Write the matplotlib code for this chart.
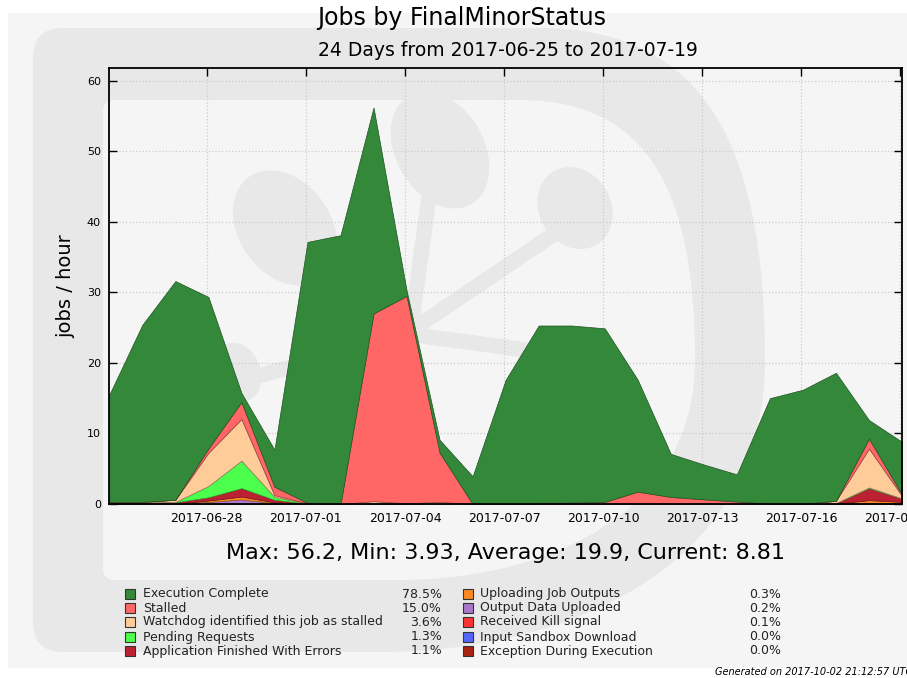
import numpy as np
import pandas as pd
import matplotlib
matplotlib.use("Agg")
import matplotlib.pyplot as plt
import matplotlib.dates as mdates
from matplotlib.patches import Rectangle, PathPatch, Ellipse
from matplotlib.path import Path
from matplotlib import transforms
from matplotlib.lines import Line2D
from matplotlib.colors import to_rgb

# ---------------- data ----------------
start = "2017-06-25 01:10"
n_days = 25

exception_during_execution = [0.0] * 25
input_sandbox_download = [0.0] * 25
received_kill_signal = [0.1, 0.1, 0, 0, 0.1, 0, 0, 0, 0, 0, 0, 0, 0, 0, 0, 0, 0, 0, 0, 0, 0, 0, 0, 0.1, 0.1]
output_data_uploaded = [0, 0, 0.05, 0.3, 0.55, 0.15, 0, 0, 0, 0, 0, 0, 0, 0, 0, 0, 0, 0, 0, 0, 0, 0, 0, 0.05, 0]
uploading_job_outputs = [0, 0, 0, 0.2, 0.4, 0.1, 0, 0, 0, 0, 0, 0, 0, 0, 0, 0, 0, 0, 0, 0, 0, 0, 0.05, 0.4, 0.2]
app_finished_errors = [0.2, 0.2, 0.2, 0.45, 1.2, 0.35, 0.05, 0, 0.1, 0.1, 0, 0, 0, 0, 0, 0, 0, 0, 0, 0, 0, 0, 0.1, 1.7, 0.5]
pending_requests = [0, 0, 0.05, 1.6, 3.9, 0.4, 0.05, 0, 0, 0, 0, 0, 0, 0, 0, 0, 0, 0, 0, 0, 0, 0, 0, 0.1, 0]
watchdog_stalled = [0, 0, 0.3, 4.7, 5.9, 0.25, 0, 0, 0.3, 0, 0.3, 0, 0, 0, 0, 0, 0, 0, 0, 0, 0, 0, 0.3, 5.5, 0.35]
stalled = [0, 0, 0, 0.6, 2.4, 1.2, 0.05, 0, 26.6, 29.4, 7.0, 0, 0, 0.1, 0.2, 0.3, 1.75, 1.0, 0.66, 0.35, 0.05, 0.05, 0, 1.4, 0.2]
execution_complete = [15.2, 25.1, 31.0, 21.5, 1.3, 5.25, 37.0, 38.1, 29.2, 0.8, 1.8, 3.93, 17.6, 25.2, 25.1,
                      24.6, 15.85, 6.1, 4.94, 3.85, 14.95, 16.15, 18.15, 2.65, 7.46]

labels = ["Execution Complete", "Stalled", "Watchdog identified this job as stalled",
          "Pending Requests", "Application Finished With Errors", "Uploading Job Outputs",
          "Output Data Uploaded", "Received Kill signal", "Input Sandbox Download",
          "Exception During Execution"]
percents = ["78.5%", "15.0%", "3.6%", "1.3%", "1.1%", "0.3%", "0.2%", "0.1%", "0.0%", "0.0%"]
colors = ["#33883a", "#ff6666", "#ffcc99", "#4dff4d", "#bb2033", "#ff8822",
          "#aa77cc", "#ff3333", "#5566ff", "#aa2211"]
series = [execution_complete, stalled, watchdog_stalled, pending_requests, app_finished_errors,
          uploading_job_outputs, output_data_uploaded, received_kill_signal,
          input_sandbox_download, exception_during_execution]

title = "Jobs by FinalMinorStatus"
subtitle = "24 Days from 2017-06-25 to 2017-07-19"
stats = "Max: 56.2, Min: 3.93, Average: 19.9, Current: 8.81"
generated = "Generated on 2017-10-02 21:12:57 UTC"
tick_dates = pd.date_range("2017-06-28", "2017-07-19", freq="3D")

# ---------------- figure ----------------
W, H = 907, 678
fig = plt.figure(figsize=(W / 100, H / 100), dpi=100, facecolor="white")
px = transforms.Affine2D().scale(1 / W, -1 / H).translate(0, 1) + fig.transFigure

bg = "#f5f5f5"
fig.patches.append(Rectangle((8, 13), W - 8, 655, transform=px, facecolor=bg,
                             edgecolor="none", zorder=-10))

# watermark (D-shaped logo)
def D_path(x0, y0, y1, xr, r, xa, xb, ybulge):
    verts = [(x0 + r, y0), (xa, y0),
             (xa + (xr - xa) * 0.75, y0), (xr, y0 + (y1 - y0) * 0.2), (xr, ybulge),
             (xr, y1 - (y1 - y0) * 0.12), (xb + (xr - xb) * 0.45, y1), (xb, y1),
             (x0 + r, y1), (x0, y1), (x0, y1 - r),
             (x0, y0 + r), (x0, y0), (x0 + r, y0), (x0 + r, y0)]
    codes = [Path.MOVETO, Path.LINETO,
             Path.CURVE4, Path.CURVE4, Path.CURVE4,
             Path.CURVE4, Path.CURVE4, Path.CURVE4,
             Path.LINETO, Path.CURVE3, Path.CURVE3,
             Path.LINETO, Path.CURVE3, Path.CURVE3, Path.CLOSEPOLY]
    return Path(verts, codes)

wm = "#e8e8e8"
fig.patches.append(PathPatch(D_path(33, 28, 652, 765, 30, 540, 380, 360), transform=px,
                             facecolor=wm, edgecolor="none", zorder=-9))
fig.patches.append(PathPatch(D_path(103, 100, 580, 695, 12, 520, 400, 360), transform=px,
                             facecolor=bg, edgecolor="none", zorder=-8))
for (cx, cy, w, h, ang) in [(285, 228, 92, 125, -35), (440, 150, 88, 125, -30),
                            (575, 208, 72, 85, -30), (238, 372, 45, 60, -20)]:
    fig.patches.append(Ellipse((cx, cy), w, h, angle=ang, transform=px, facecolor=wm,
                               edgecolor="none", zorder=-7))
for (xa, ya, xb, yb) in [(430, 190, 410, 335), (412, 330, 560, 230), (415, 335, 600, 360),
                         (412, 335, 250, 378)]:
    fig.lines.append(Line2D([xa, xb], [ya, yb], transform=px, color=wm, lw=11,
                            solid_capstyle="round", zorder=-7))

# ---------------- axes ----------------
ax = fig.add_axes([109.3 / W, 1 - 504 / H, (902 - 109.3) / W, (504 - 68) / H])
ax.set_facecolor("none")

dates = pd.date_range(start, periods=n_days, freq="D")
x = mdates.date2num(dates.to_pydatetime())

def darker(c, f=0.6):
    r, g, b = to_rgb(c)
    return (r * f, g * f, b * f)

base = np.zeros(n_days)
for vals, col in reversed(list(zip(series, colors))):
    top = base + np.array(vals, dtype=float)
    ax.fill_between(x, base, top, facecolor=col, edgecolor=darker(col), linewidth=0.5, zorder=2)
    base = top

ax.set_xlim(x[0], x[-1])
ax.set_ylim(0, 61.8)
ax.set_yticks(range(0, 61, 10))
ax.set_xticks(mdates.date2num(tick_dates.to_pydatetime()))
ax.xaxis.set_major_formatter(mdates.DateFormatter("%Y-%m-%d"))
ax.tick_params(axis="x", direction="in", top=True, length=6, width=1, labelsize=9, pad=6)
ax.tick_params(axis="y", direction="in", right=True, length=6, width=1, labelsize=8, pad=6)
ax.grid(True, linestyle=":", color="#cccccc", linewidth=0.9, zorder=1)
ax.set_axisbelow(True)
for sp in ax.spines.values():
    sp.set_linewidth(1.3)
    sp.set_zorder(5)
ax.set_ylabel("jobs / hour", fontsize=14, labelpad=8)

# ---------------- texts ----------------
fig.text(462 / W, 1 - 18 / H, title, ha="center", va="center", fontsize=17)
fig.text(508 / W, 1 - 51 / H, subtitle, ha="center", va="center", fontsize=13.5)
fig.text(506 / W, 1 - 553 / H, stats, ha="center", va="center", fontsize=16)
fig.text(912 / W, 1 - 672 / H, generated, ha="right", va="center", fontsize=7, style="italic")

rows_y = [594, 608, 622, 637, 651]
cols = [(125, 143, 442), (463, 480, 781)]
for i, (lab, pct, col) in enumerate(zip(labels, percents, colors)):
    c = i // 5
    r = i % 5
    sx, tx, px_r = cols[c]
    yy = rows_y[r]
    fig.patches.append(Rectangle((sx, yy - 5), 10, 10, transform=px, facecolor=col,
                                 edgecolor="#333333", linewidth=0.8, zorder=3))
    fig.text(tx / W, 1 - yy / H, lab, ha="left", va="center", fontsize=9, color="#222222")
    fig.text(px_r / W, 1 - yy / H, pct, ha="right", va="center", fontsize=9, color="#222222")

fig.savefig("out.png", dpi=100, facecolor="white")
